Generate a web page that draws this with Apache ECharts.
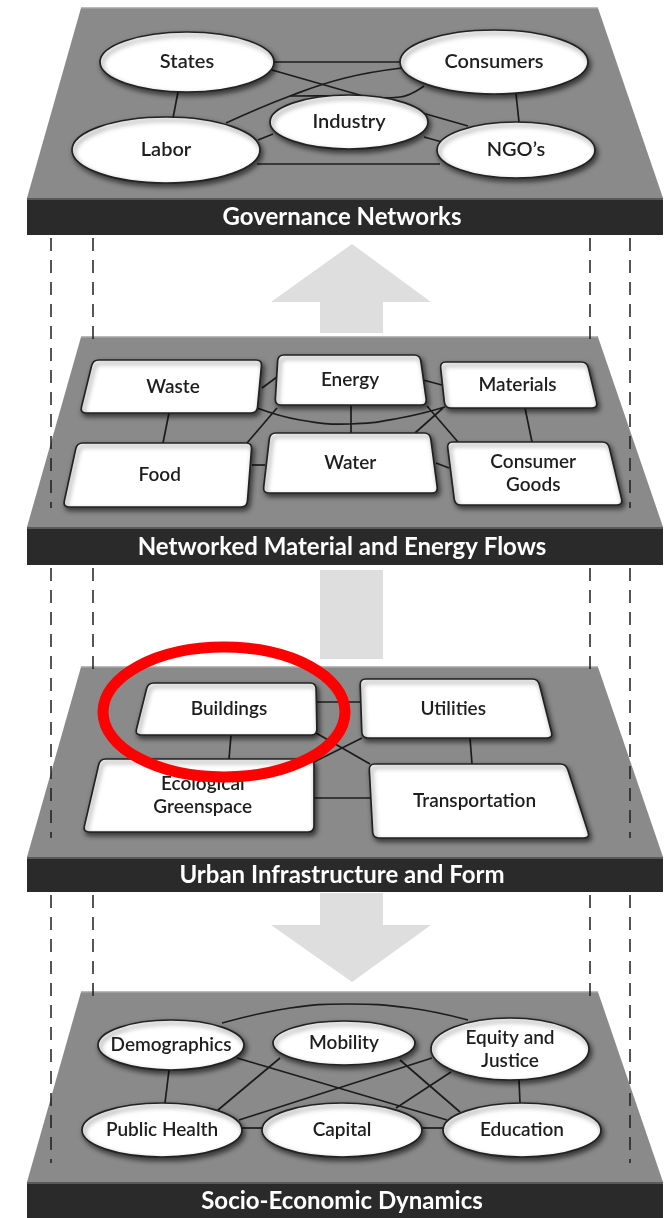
<!DOCTYPE html>
<html><head><meta charset="utf-8">
<script src="https://cdn.jsdelivr.net/npm/echarts@6/dist/echarts.min.js"></script>
<style>html,body{margin:0;padding:0;background:#fff}#c{width:667px;height:1218px}</style>
</head><body><div id="c"></div>
<script>
// ---------- data ----------
const layerTitles = ['Governance Networks','Networked Material and Energy Flows','Urban Infrastructure and Form','Socio-Economic Dynamics'];
const bandTop = [198, 527, 857, 1182];
const bandBottom = [235, 565, 892, 1218];

// Governance layer (ellipses)
const govNames = ['States','Consumers','Industry','Labor','NGO\u2019s'];
const govCx = [187, 494, 349, 166, 516];
const govCy = [62, 62, 122, 150, 150];
const govRx = [87, 94, 79, 94, 79];
const govRy = [30, 32, 27, 33, 28];

// Material & energy flows (rounded quads)
const flowNames = ['Waste','Energy','Materials','Food','Water','Consumer\nGoods'];
const flowTop = [360, 355, 362, 443, 433, 442];
const flowBot = [413, 405, 408, 507, 493, 505];
const flowTL = [93, 278, 440, 77, 270, 447];
const flowTR = [262, 420, 587, 252, 430, 608];
const flowBL = [80, 275, 445, 63, 263, 455];
const flowBR = [257, 427, 598, 247, 438, 623];

// Urban infrastructure (rounded quads)
const infraNames = ['Buildings','Utilities','Ecological\nGreenspace','Transportation'];
const infraTop = [683, 679, 759, 764];
const infraBot = [735, 738, 832, 838];
const infraTL = [148, 360, 100, 369];
const infraTR = [316, 538, 314, 566];
const infraBL = [135, 362, 83, 373];
const infraBR = [317, 553, 314, 590];

// Socio-economic (ellipses)
const socioNames = ['Demographics','Mobility','Equity and\nJustice','Public Health','Capital','Education'];
const socioCx = [171, 344, 510, 162, 342, 522];
const socioCy = [1045, 1043, 1049, 1130, 1130, 1130];
const socioRx = [73, 71, 79, 80, 80, 79];
const socioRy = [25, 22, 31, 27, 27, 27];

// Links (point lists, drawn under the nodes)
const govLinks = [
  [[178,92],[173,118]],
  [[274,62],[401,62]],
  [[272,70],[468,126]],
  [[226,123],[290,96],[345,78],[402,68]],
  [[290,96],[345,96],[400,97],[424,86]],
  [[258,140],[273,134]],
  [[424,137],[442,142]],
  [[257,164],[440,164]],
  [[516,94],[519,122]]
];
const flowLinks = [
  [[169,413],[163,443]],
  [[262,388],[277,377]],
  [[252,465],[265,465]],
  [[257,408],[300,420],[350,424],[400,418],[445,407]],
  [[247,443],[277,408]],
  [[351,405],[351,433]],
  [[423,380],[442,385]],
  [[427,406],[458,442]],
  [[415,433],[443,408]],
  [[525,408],[532,442]],
  [[436,463],[449,468]]
];
const infraLinks = [
  [[317,702],[360,702]],
  [[231,735],[229,759]],
  [[470,738],[472,764]],
  [[316,733],[370,764]],
  [[362,738],[314,762]],
  [[314,798],[370,798]]
];
const socioLinks = [
  [[222,1023],[290,1008],[347,1004],[410,1008],[468,1020]],
  [[169,1070],[165,1103]],
  [[519,1080],[520,1103]],
  [[242,1128],[263,1128]],
  [[422,1128],[443,1128]],
  [[237,1058],[447,1120]],
  [[280,1058],[218,1110]],
  [[400,1060],[460,1112]],
  [[432,1058],[239,1120]],
  [[451,1072],[396,1108]]
];

// Dashed guide lines
const dashX = [51, 93, 590, 630];
const dashOuter = [true, false, false, true];
const dashStart = [235, 565, 892];
const dashEndOuter = [508, 838, 1163];
const dashEndInner = [343, 673, 998];

// Arrows between layers: [type, top, bottom]  (0 = up, 1 = bar, 2 = down)
const arrowKinds = [0, 1, 2];
const arrowTop = [244, 570, 893];
const arrowBottom = [333, 659, 982];

// Highlight annotation
const highlight = [224, 712, 121, 65];

// ---------- build ----------
const chart = echarts.init(document.getElementById('c'), null, {renderer: 'canvas'});
const FONT = 'Lato, "Noto Sans", sans-serif';

function roundedPath(pts, r) {
  let d = '';
  const n = pts.length;
  for (let i = 0; i < n; i++) {
    const p0 = pts[(i - 1 + n) % n], p1 = pts[i], p2 = pts[(i + 1) % n];
    const v1 = [p0[0] - p1[0], p0[1] - p1[1]], v2 = [p2[0] - p1[0], p2[1] - p1[1]];
    const l1 = Math.hypot(v1[0], v1[1]), l2 = Math.hypot(v2[0], v2[1]);
    const a = [p1[0] + v1[0] / l1 * r, p1[1] + v1[1] / l1 * r];
    const b = [p1[0] + v2[0] / l2 * r, p1[1] + v2[1] / l2 * r];
    d += (i === 0 ? 'M' : 'L') + a[0].toFixed(2) + ' ' + a[1].toFixed(2) +
      ' Q' + p1[0].toFixed(2) + ' ' + p1[1].toFixed(2) + ' ' + b[0].toFixed(2) + ' ' + b[1].toFixed(2) + ' ';
  }
  return d + 'Z';
}

const nodeStyle = {
  fill: '#ffffff', stroke: '#222222', lineWidth: 1.7,
  shadowBlur: 5, shadowColor: 'rgba(0,0,0,0.6)', shadowOffsetX: 2, shadowOffsetY: 3
};
function label(text, c, size) {
  return {type: 'text', z2: 10, style: {
    text: text, x: c[0], y: c[1], align: 'center', verticalAlign: 'middle',
    font: '600 ' + size + 'px ' + FONT, fill: '#1e1e1e', lineHeight: size + 4
  }};
}

function ellipseSeries(names, cx, cy, rx, ry, size) {
  return {
    type: 'custom', coordinateSystem: 'cartesian2d', z: 5, silent: true,
    data: names.map((n, i) => [cx[i], cy[i], rx[i] * 2, ry[i] * 2]),
    renderItem: (params, api) => {
      const c = api.coord([api.value(0), api.value(1)]);
      const s = api.size([api.value(2), api.value(3)], [api.value(0), api.value(1)]);
      return {type: 'group', children: [
        {type: 'ellipse', shape: {cx: c[0], cy: c[1], rx: s[0] / 2, ry: s[1] / 2}, style: nodeStyle},
        label(names[params.dataIndex], [c[0], c[1]], size)
      ]};
    }
  };
}

function quadSeries(names, top, bot, tl, tr, bl, br, size) {
  return {
    type: 'custom', coordinateSystem: 'cartesian2d', z: 5, silent: true,
    data: names.map((n, i) => [tl[i], top[i], tr[i], bot[i], bl[i], br[i]]),
    renderItem: (params, api) => {
      const t = api.value(1), b = api.value(3);
      const pts = [
        api.coord([api.value(0), t]), api.coord([api.value(2), t]),
        api.coord([api.value(5), b]), api.coord([api.value(4), b])
      ];
      const cx = (pts[0][0] + pts[1][0] + pts[2][0] + pts[3][0]) / 4;
      const cy = (pts[0][1] + pts[2][1]) / 2;
      return {type: 'group', children: [
        {type: 'path', shape: {pathData: roundedPath(pts, 6)}, style: nodeStyle},
        label(names[params.dataIndex], [cx, cy], size)
      ]};
    }
  };
}

const allLinks = [].concat(govLinks, flowLinks, infraLinks, socioLinks);

const dashSegs = [];
dashStart.forEach((s, k) => {
  dashX.forEach((x, j) => dashSegs.push([x, s, dashOuter[j] ? dashEndOuter[k] : dashEndInner[k]]));
});

const option = {
  animation: false,
  backgroundColor: '#ffffff',
  grid: {left: 0, right: 0, top: 0, bottom: 0},
  xAxis: {type: 'value', min: 0, max: 667, show: false},
  yAxis: {type: 'value', min: 0, max: 1218, inverse: true, show: false},
  series: [
    // platforms + title bands
    {
      type: 'custom', coordinateSystem: 'cartesian2d', z: 1, silent: true,
      data: layerTitles.map((t, i) => [bandTop[i], bandBottom[i]]),
      renderItem: (params, api) => {
        const bt = api.value(0), bb = api.value(1), tt = bt - 190;
        const p = [[81, tt], [598, tt], [663, bt], [27, bt]].map(q => api.coord(q));
        const b0 = api.coord([27, bt]), b1 = api.coord([663, bb]);
        const tc = api.coord([342, (bt + bb) / 2]);
        return {type: 'group', children: [
          {type: 'polygon', shape: {points: p}, style: {fill: '#8a8a8a'}},
          {type: 'polyline', shape: {points: [p[0], p[1]]}, style: {stroke: '#a3a3a3', lineWidth: 1.5, fill: null}},
          {type: 'rect', shape: {x: b0[0], y: b0[1], width: b1[0] - b0[0], height: b1[1] - b0[1]}, style: {fill: '#2a2a2a'}},
          {type: 'rect', shape: {x: b0[0], y: b0[1], width: b1[0] - b0[0], height: 2}, style: {fill: '#5a5a5a'}},
          {type: 'text', style: {text: layerTitles[params.dataIndex], x: tc[0], y: tc[1] + 1, align: 'center', verticalAlign: 'middle',
            font: 'bold 24px ' + FONT, fill: '#ffffff'}}
        ]};
      }
    },
    // dashed guide lines
    {
      type: 'custom', coordinateSystem: 'cartesian2d', z: 2, silent: true,
      data: dashSegs,
      renderItem: (params, api) => {
        const a = api.coord([api.value(0), api.value(1)]), b = api.coord([api.value(0), api.value(2)]);
        return {type: 'line', shape: {x1: a[0], y1: a[1] + 3, x2: b[0], y2: b[1]},
          style: {stroke: '#1e1e1e', lineWidth: 1.5, lineDash: [13, 9]}};
      }
    },
    // arrows
    {
      type: 'custom', coordinateSystem: 'cartesian2d', z: 2, silent: true,
      data: arrowKinds.map((k, i) => [k, arrowTop[i], arrowBottom[i]]),
      renderItem: (params, api) => {
        const k = api.value(0), t = api.value(1), b = api.value(2);
        let pts;
        if (k === 0) {
          pts = [[352, t], [431, t + 58], [383, t + 58], [383, b], [320, b], [320, t + 58], [271, t + 58]];
        } else if (k === 1) {
          pts = [[320, t], [383, t], [383, b], [320, b]];
        } else {
          pts = [[320, t], [383, t], [383, b - 57], [431, b - 57], [352, b], [271, b - 57], [320, b - 57]];
        }
        return {type: 'polygon', shape: {points: pts.map(q => api.coord(q))}, style: {fill: '#dedede'}};
      }
    },
    // links
    {
      type: 'custom', coordinateSystem: 'cartesian2d', z: 3, silent: true,
      data: allLinks.map((l, i) => [l[0][0], l[0][1], i]),
      renderItem: (params, api) => {
        const l = allLinks[params.dataIndex];
        return {type: 'polyline', shape: {points: l.map(p => api.coord(p)), smooth: l.length > 2 ? 0.45 : 0},
          style: {stroke: '#1c1c1c', lineWidth: 1.7, fill: null}};
      }
    },
    ellipseSeries(govNames, govCx, govCy, govRx, govRy, 20),
    quadSeries(flowNames, flowTop, flowBot, flowTL, flowTR, flowBL, flowBR, 19),
    quadSeries(infraNames, infraTop, infraBot, infraTL, infraTR, infraBL, infraBR, 19),
    ellipseSeries(socioNames, socioCx, socioCy, socioRx, socioRy, 19),
    // highlight ellipse
    {
      type: 'custom', coordinateSystem: 'cartesian2d', z: 8, silent: true,
      data: [highlight],
      renderItem: (params, api) => {
        const c = api.coord([api.value(0), api.value(1)]);
        const s = api.size([api.value(2) * 2, api.value(3) * 2], [api.value(0), api.value(1)]);
        return {type: 'ellipse', shape: {cx: c[0], cy: c[1], rx: s[0] / 2, ry: s[1] / 2},
          style: {fill: null, stroke: '#ff0000', lineWidth: 11}};
      }
    }
  ]
};
chart.setOption(option);
</script>
</body></html>
